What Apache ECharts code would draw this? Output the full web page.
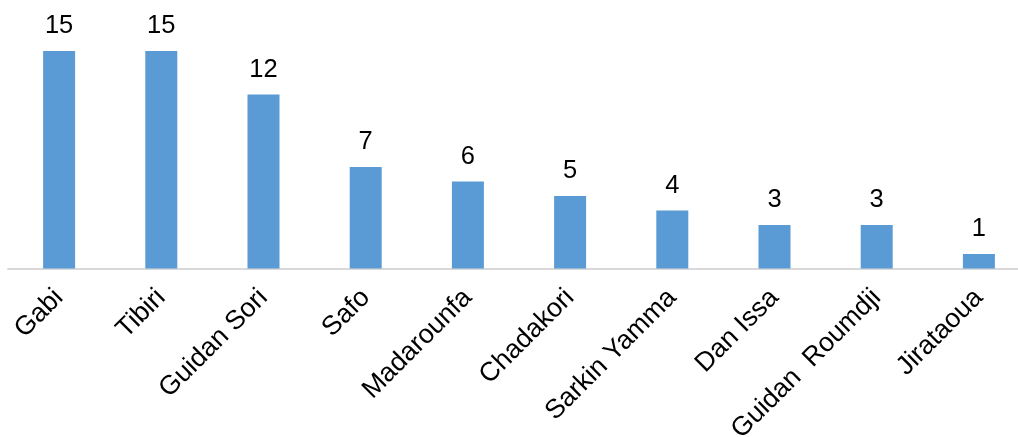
<!DOCTYPE html>
<html>
<head>
<meta charset="utf-8">
<script src="https://cdn.jsdelivr.net/npm/echarts@6/dist/echarts.min.js"></script>
<style>
html,body{margin:0;padding:0;background:#fff;}
#chart{width:1018px;height:437px;}
</style>
</head>
<body>
<div id="chart"></div>
<script>
const categories = ['Gabi','Tibiri','Guidan Sori','Safo','Madarounfa','Chadakori','Sarkin Yamma','Dan Issa','Guidan  Roumdji','Jirataoua'];
const values = [15,15,12,7,6,5,4,3,3,1];

const chart = echarts.init(document.getElementById('chart'));
chart.setOption({
  animation: false,
  backgroundColor: '#ffffff',
  grid: { left: 8, width: 1022, top: 51, height: 217.5, outerBoundsMode: 'none', containLabel: false },
  xAxis: {
    type: 'category',
    data: categories,
    axisTick: { show: false },
    axisLine: { lineStyle: { color: '#d9d9d9', width: 2 } },
    axisLabel: {
      interval: 0,
      rotate: 45,
      margin: 25,
      padding: [6, 0, 0, 0],
      fontFamily: 'Liberation Sans, Arial, sans-serif',
      fontSize: 26.7,
      color: '#000000'
    }
  },
  yAxis: {
    type: 'value',
    min: 0,
    max: 15,
    show: false,
    splitLine: { show: false }
  },
  series: [{
    type: 'bar',
    data: values,
    barWidth: 32,
    itemStyle: { color: '#5b9bd5' },
    label: {
      show: true,
      position: 'top',
      distance: 12,
      fontFamily: 'Liberation Sans, Arial, sans-serif',
      fontSize: 25.5,
      color: '#000000'
    }
  }]
});
</script>
</body>
</html>
